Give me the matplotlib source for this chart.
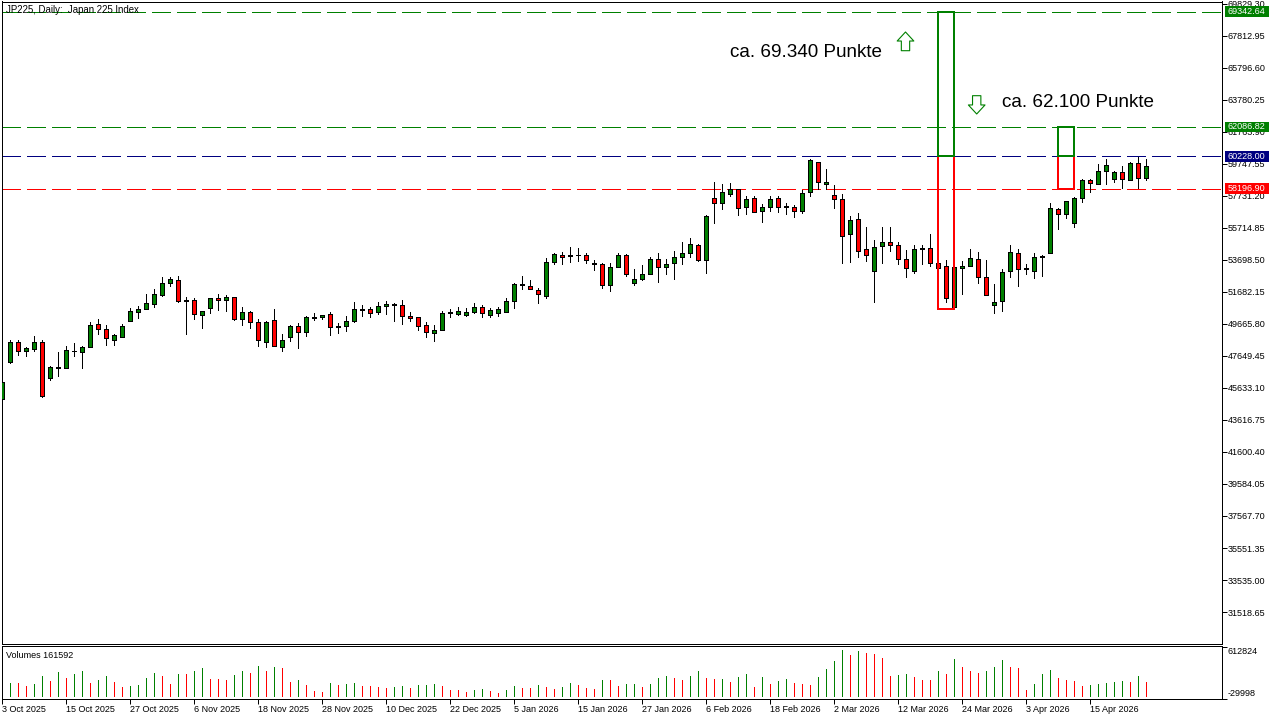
#!/usr/bin/env python3
"""
JP225 daily candles with volume panel and target levels.
"""
import matplotlib
matplotlib.use("Agg")
import matplotlib.pyplot as plt
from matplotlib.patches import Rectangle
from matplotlib.transforms import blended_transform_factory

plt.rcParams['font.family'] = ['Liberation Sans', 'DejaVu Sans']
plt.rcParams['lines.scale_dashes'] = False

# OHLC values, one per trading day
opens = [
    44961, 47293, 48511, 47986, 48112, 48511, 46285, 46873, 46873, 47944,
    47923, 48238, 49645, 49330, 48679, 48868, 49876, 50443, 50632, 50947,
    51514, 52270, 52417, 51157, 51157, 50212, 50695, 51283, 51157, 51346,
    50002, 50401, 49771, 48553, 49897, 48195, 48868, 49519, 49141, 50023,
    50086, 50275, 49519, 49519, 49834, 50527, 50590, 50401, 50779, 50905,
    50842, 50149, 50086, 49582, 49078, 49267, 50338, 50317, 50212, 50401,
    50716, 50254, 50338, 50401, 51094, 52102, 52039, 51787, 51451, 53552,
    53993, 53930, 53993, 53993, 53489, 53426, 52102, 53237, 53993, 52228,
    52480, 52796, 53741, 53237, 53489, 53867, 54119, 54623, 53720, 57585,
    57270, 57837, 58152, 57017, 57585, 56765, 57017, 57585, 57080, 57017,
    56765, 57963, 59853, 58466, 57773, 57522, 55316, 56261, 54371, 52985,
    54560, 54812, 54623, 53741, 52985, 54434, 54434, 53489, 53300, 50716,
    53174, 53300, 53741, 52606, 50842, 51094, 52985, 54119, 53174, 52985,
    53867, 54119, 56891, 56576, 56009, 57585, 58719, 58466, 59285, 58782,
    59222, 58719, 59790, 58845,
]
closes = [
    45990, 48511, 47986, 48133, 48511, 45150, 46936, 46936, 48007, 47944,
    48195, 49582, 49330, 48763, 48952, 49519, 50464, 50590, 50968, 51535,
    52228, 52480, 51136, 51136, 50275, 50464, 51283, 51157, 51346, 50002,
    50401, 49771, 48637, 49771, 48301, 48637, 49519, 49141, 50086, 50086,
    50212, 49456, 49456, 49834, 50590, 50590, 50338, 50779, 50905, 50884,
    50149, 50023, 49561, 49141, 49267, 50338, 50401, 50464, 50401, 50716,
    50338, 50527, 50590, 51094, 52165, 52165, 51850, 51535, 53552, 54056,
    53867, 53993, 53993, 53678, 53426, 52102, 53237, 53993, 52796, 52480,
    52796, 53741, 53237, 53426, 53867, 54119, 54686, 53720, 56450, 57270,
    57963, 58152, 56954, 57522, 56702, 57017, 57522, 57017, 57017, 56765,
    57899, 59979, 58593, 58593, 57522, 55190, 56198, 54245, 53993, 54497,
    54812, 54623, 53741, 53174, 54371, 54371, 53489, 53174, 51283, 53237,
    53300, 53804, 52606, 51472, 51031, 52921, 54182, 53110, 53110, 53867,
    53930, 56954, 56576, 57395, 57585, 58719, 58530, 59285, 59664, 59222,
    58782, 59790, 58845, 59600,
]
highs = [
    45990, 48658, 48658, 48217, 48910, 48658, 47020, 47902, 48280, 48469,
    48280, 49771, 49981, 49603, 49036, 49666, 50674, 50800, 51557, 51871,
    52627, 52627, 52690, 51367, 51304, 50464, 51283, 51557, 51493, 51346,
    50737, 50485, 49960, 49834, 50611, 49036, 49582, 49708, 50149, 50338,
    50254, 50401, 49708, 50149, 51031, 50863, 50716, 51031, 51094, 50968,
    51157, 50401, 50086, 49771, 49582, 50464, 50590, 50716, 50653, 50968,
    50842, 50653, 50716, 51283, 52228, 52690, 52417, 51913, 53825, 54119,
    54182, 54497, 54434, 54119, 53678, 53489, 53489, 54119, 54056, 53111,
    53384, 53867, 54119, 53741, 54245, 54812, 55064, 54686, 56513, 58593,
    58488, 58551, 58152, 57711, 57711, 57207, 57711, 57711, 57270, 57143,
    58088, 60062, 59853, 59432, 58403, 57836, 56450, 56639, 55757, 54938,
    55757, 55757, 54812, 54329, 54623, 54623, 55316, 53930, 53678, 54245,
    53615, 54371, 54182, 53678, 52165, 53110, 54623, 54371, 53426, 54119,
    53993, 57270, 56954, 57395, 57648, 58782, 58782, 59748, 60062, 59285,
    59600, 59853, 60210, 60062,
]
lows = [
    44960, 47230, 47734, 47671, 47986, 45087, 46137, 46410, 46873, 47671,
    46914, 48238, 49036, 48364, 48364, 48868, 49876, 50065, 50590, 50758,
    51451, 52081, 51073, 49057, 50002, 49435, 50380, 50569, 50506, 49939,
    49624, 49435, 48301, 48238, 48301, 47986, 48616, 48175, 48931, 49939,
    50002, 48994, 49120, 49246, 49771, 50191, 50128, 50317, 50317, 49876,
    49687, 49876, 49309, 48868, 48616, 49267, 50128, 50254, 50191, 50380,
    50128, 50128, 50191, 50401, 50695, 51892, 51850, 51010, 51325, 53468,
    53468, 53594, 53657, 53531, 53090, 51955, 51766, 53237, 52712, 52144,
    52438, 52796, 52334, 52838, 52523, 53468, 53867, 53657, 52901, 56051,
    56933, 57711, 56513, 56618, 56702, 56114, 56765, 56744, 56618, 56429,
    56639, 57711, 58152, 58152, 56996, 53530, 53594, 53909, 53657, 51073,
    53530, 54287, 53468, 52649, 52901, 53468, 53342, 51893, 51073, 50653,
    51577, 53300, 52270, 51472, 50380, 50506, 52649, 52081, 52838, 52585,
    52711, 54119, 55673, 56366, 55799, 57375, 58005, 58466, 58508, 58593,
    58235, 58719, 58256, 58739,
]

# Tick volumes in thousands, g = rising bar, r = falling bar
volumes_k = [
    0, 162, 162, 124, 149, 249, 187, 298, 224, 274,
    311, 162, 199, 249, 174, 112, 124, 137, 224, 286,
    249, 149, 274, 274, 311, 348, 211, 211, 199, 261,
    311, 286, 373, 311, 361, 348, 174, 199, 137, 62,
    50, 162, 137, 149, 162, 124, 124, 112, 99, 112,
    124, 99, 137, 137, 149, 124, 75, 75, 50, 75,
    87, 62, 37, 75, 124, 99, 99, 137, 112, 87,
    112, 162, 137, 99, 87, 199, 199, 124, 149, 149,
    112, 149, 224, 249, 224, 199, 249, 311, 224, 211,
    211, 174, 236, 274, 112, 236, 149, 187, 211, 162,
    149, 137, 236, 336, 435, 572, 510, 560, 535, 522,
    473, 249, 261, 274, 236, 199, 199, 311, 274, 460,
    361, 311, 286, 311, 361, 448, 361, 348, 75, 149,
    274, 323, 224, 199, 187, 124, 137, 149, 162, 174,
    187, 174, 249, 174,
]
volume_dirs = (
    "ggrrggrgrg" "grggrrgggg" "rrgrggrrrg" "grgrgrrgrr" "rgrggrrrrg"
    "grgggrrrrg" "grrggrrgrr" "ggrrrgrrgg" "rgggrrggrr" "grggrgrggr"
    "rrggggrgrr" "rrggrrrgrg" "rrrgggrrrg" "ggrrrrgggg" "grgr"
)

tick_labels_x = [
    "3 Oct 2025", "15 Oct 2025", "27 Oct 2025", "6 Nov 2025", "18 Nov 2025",
    "28 Nov 2025", "10 Dec 2025", "22 Dec 2025", "5 Jan 2026", "15 Jan 2026",
    "27 Jan 2026", "6 Feb 2026", "18 Feb 2026", "2 Mar 2026", "12 Mar 2026",
    "24 Mar 2026", "3 Apr 2026", "15 Apr 2026",
]
price_ticks = [
    69829.30, 67812.95, 65796.60, 63780.25, 61763.90, 59747.55, 57731.20,
    55714.85, 53698.50, 51682.15, 49665.80, 47649.45, 45633.10, 43616.75,
    41600.40, 39584.05, 37567.70, 35551.35, 33535.00, 31518.65,
]
volume_ticks = [612824, -29998]

level_top = 69342.64
level_upper = 62086.82
level_mid = 60228.00
level_lower = 58196.90
level_floor = 50610

GREEN = '#008000'
RED = '#ff0000'
NAVY = '#000080'
W, H = 1280, 720


def axes_rect(left, top, right, bottom):
    return [left / W, 1 - bottom / H, (right - left) / W, (bottom - top) / H]


fig = plt.figure(figsize=(W / 100, H / 100), dpi=100, facecolor='white')
ax = fig.add_axes(axes_rect(1.5, 1.5, 1221.5, 643.5))
ax_vol = fig.add_axes(axes_rect(1.5, 645.5, 1221.5, 698.5))

n = len(opens)
days = list(range(n))

for a in (ax, ax_vol):
    a.set_xlim(0, 152.5)
    for s in a.spines.values():
        s.set_linewidth(0.72)
        s.set_antialiased(False)

# price panel
ax.set_ylim(29534, 69986)
for level, colour in [(level_top, GREEN), (level_upper, GREEN),
                      (level_mid, NAVY), (level_lower, RED)]:
    ax.plot([0, 152.5], [level, level], color=colour, lw=0.72, dashes=(12.96, 4.32),
            zorder=1, antialiased=False, dash_capstyle='butt')

ax.vlines(days, lows, highs, color='black', lw=0.72, zorder=2, antialiased=False)
for i in days:
    bottom = min(opens[i], closes[i])
    height = abs(closes[i] - opens[i])
    colour = GREEN if closes[i] >= opens[i] else RED
    ax.bar(i, height, bottom=bottom, width=0.5, color=colour, edgecolor='black',
           linewidth=0.72, zorder=3, antialiased=False)

# target boxes
for left, right, low, high, colour in [
    (117, 119, level_floor, level_mid, RED),
    (117, 119, level_mid, level_top, GREEN),
    (132, 134, level_lower, level_mid, RED),
    (132, 134, level_mid, level_upper, GREEN),
]:
    ax.add_patch(Rectangle((left, low), right - left, high - low, fill=False,
                           edgecolor=colour, linewidth=1.44, zorder=4,
                           antialiased=False))

ax.text(91.05, 66520, "ca. 69.340 Punkte", fontsize=13.6, color='black', va='baseline',
        ha='left', zorder=5)
ax.text(125.0, 63370, "ca. 62.100 Punkte", fontsize=13.6, color='black', va='baseline',
        ha='left', zorder=5)

arrow_style = dict(facecolor='white', edgecolor=GREEN, width=6.0, headwidth=12,
                   headlength=6.5, shrink=0, linewidth=0.8)
ax.annotate("", xy=(113, 68065), xytext=(113, 66886), arrowprops=arrow_style, zorder=5)
ax.annotate("", xy=(121.9, 62898), xytext=(121.9, 64051), arrowprops=arrow_style, zorder=5)

ax.text(0.0037, 0.9875, "JP225, Daily:  Japan 225 Index", transform=ax.transAxes,
        fontsize=6.9, va='center', ha='left', zorder=6)

ax.yaxis.tick_right()
ax.set_yticks(price_ticks)
ax.set_yticklabels([f"{t:.2f}" for t in price_ticks])
ax.tick_params(axis='y', direction='out', length=3.6, width=0.72, pad=0.6, labelsize=6.5)
ax.set_xticks([])

# level tags on the price scale
tag_tf = blended_transform_factory(ax.transAxes, ax.transData)
for level, colour in [(level_top, GREEN), (level_upper, GREEN),
                      (level_mid, NAVY), (level_lower, RED)]:
    ax.add_patch(Rectangle((1.0029, level - 330), 0.0361, 660, transform=tag_tf,
                           facecolor=colour, edgecolor='none', clip_on=False,
                           zorder=10, antialiased=False))
    ax.text(1.00508, level, f"{level:.2f}", transform=tag_tf, color='white', fontsize=6.5,
            va='center', ha='left', clip_on=False, zorder=11)

# volume panel
ax_vol.set_ylim(-29998, 629000)
ax_vol.vlines(days, 0, [v * 1000 for v in volumes_k],
              colors=[GREEN if d == 'g' else RED for d in volume_dirs],
              lw=0.72, antialiased=False)
ax_vol.text(0.0037, 0.811, "Volumes 161592", transform=ax_vol.transAxes,
            fontsize=6.5, va='center', ha='left')
ax_vol.yaxis.tick_right()
ax_vol.set_yticks(volume_ticks)
vol_labels = ax_vol.set_yticklabels([str(t) for t in volume_ticks])
# scale labels sit inside the panel, not on their ticks
vol_labels[0].set_verticalalignment('top')
vol_labels[1].set_verticalalignment('bottom')
ax_vol.tick_params(axis='y', direction='out', length=3.6, width=0.72, pad=0.6, labelsize=6.5)
ax_vol.set_xticks(days[::8])
ax_vol.set_xticklabels(tick_labels_x, ha='left')
ax_vol.tick_params(axis='x', direction='out', length=3.6, width=0.72, pad=1.0, labelsize=6.5)

fig.savefig('out.png', dpi=100, facecolor='white')
